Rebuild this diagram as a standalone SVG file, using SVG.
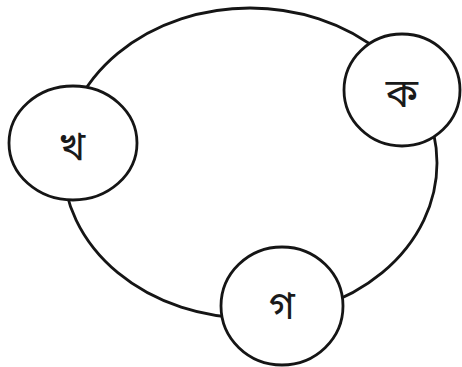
<svg xmlns="http://www.w3.org/2000/svg" width="462" height="367" viewBox="0 0 462 367">
  <style>
    .ring { fill: none; stroke: #151515; stroke-width: 2.8; }
    .node { fill: #ffffff; stroke: #151515; stroke-width: 2.8; }
    .lbl { font-family: "Noto Sans Bengali", "Noto Serif Bengali", "Lohit Bengali", "Noto Sans", sans-serif; font-size: 40px; fill: #1a1a1a; text-anchor: middle; dominant-baseline: central; }
  </style>
  <rect width="462" height="367" fill="#ffffff"/>
  <g id="connectors">
    <ellipse class="ring" cx="250" cy="163" rx="187" ry="155"/>
  </g>
  <g id="node-ka">
    <ellipse class="node" cx="402" cy="90" rx="58" ry="56"/>
    <text class="lbl" x="402" y="96">ক</text>
  </g>
  <g id="node-kha">
    <ellipse class="node" cx="73" cy="143" rx="64" ry="57"/>
    <text class="lbl" x="72" y="149">খ</text>
  </g>
  <g id="node-ga">
    <ellipse class="node" cx="282" cy="306" rx="61" ry="59"/>
    <text class="lbl" x="282" y="308">গ</text>
  </g>
</svg>
